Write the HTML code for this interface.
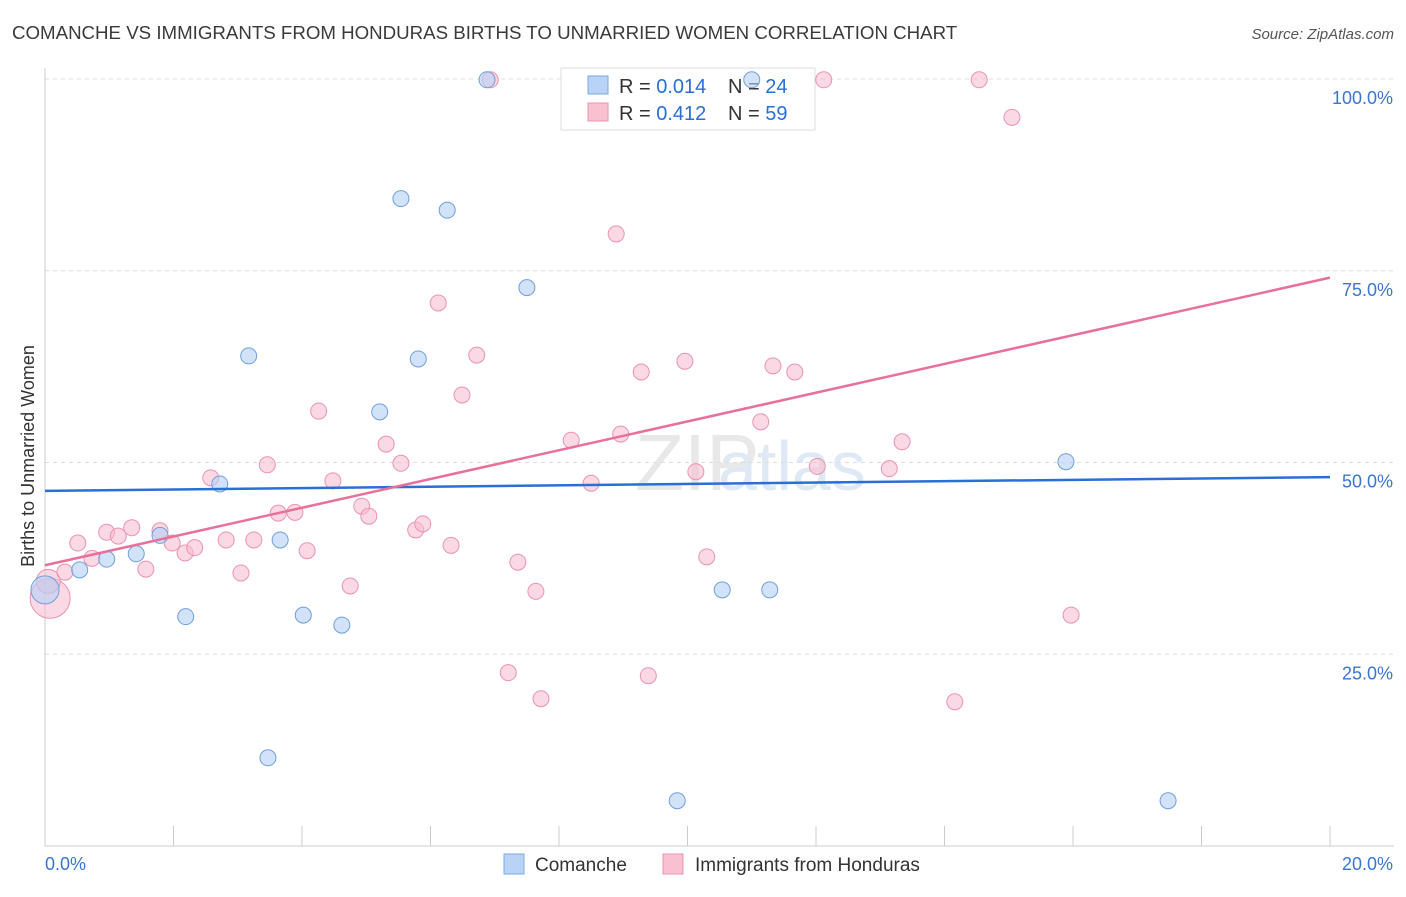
<!DOCTYPE html>
<html><head><meta charset="utf-8"><style>
body{margin:0;background:#fff;font-family:"Liberation Sans",sans-serif}
svg text{font-family:"Liberation Sans",sans-serif}
</style></head><body>
<svg id="chart" width="1406" height="892" viewBox="0 0 1406 892" xmlns="http://www.w3.org/2000/svg">
<text x="12" y="39" font-size="18.7" fill="#3a3a3a">COMANCHE VS IMMIGRANTS FROM HONDURAS BIRTHS TO UNMARRIED WOMEN CORRELATION CHART</text>
<text x="1394" y="39" font-size="15" fill="#555" text-anchor="end" font-style="italic">Source: ZipAtlas.com</text>
<text x="34" y="456" font-size="18" fill="#333" text-anchor="middle" transform="rotate(-90 34 456)">Births to Unmarried Women</text>
<text x="635" y="490" font-size="80" fill="#e8e8e8" font-family="Liberation Serif">ZIP</text>
<text x="718" y="490" font-size="70" fill="#dfe8f5">atlas</text>
<g id="grid"></g><g id="axes"></g>
<g>
<rect x="561" y="68" width="254" height="62" fill="#fff" stroke="#ddd"/>
<rect x="588" y="76" width="20" height="18" fill="#b8d3f5" stroke="#7aa8e0"/>
<rect x="588" y="103" width="20" height="18" fill="#f8c0d0" stroke="#eb93ae"/>
<text x="619" y="93" font-size="20" fill="#333">R = <tspan fill="#2a6fd6">0.014</tspan></text>
<text x="728" y="93" font-size="20" fill="#333">N = <tspan fill="#2a6fd6">24</tspan></text>
<text x="619" y="120" font-size="20" fill="#333">R = <tspan fill="#2a6fd6">0.412</tspan></text>
<text x="728" y="120" font-size="20" fill="#333">N = <tspan fill="#2a6fd6">59</tspan></text>
</g>
<g id="pts"></g><g id="lines"></g>
<g>
<rect x="504" y="854" width="20" height="20" fill="#b8d3f5" stroke="#7aa8e0"/>
<text x="535" y="871" font-size="19" fill="#333">Comanche</text>
<rect x="663" y="854" width="20" height="20" fill="#f8c0d0" stroke="#eb93ae"/>
<text x="695" y="871" font-size="19" fill="#333">Immigrants from Honduras</text>
</g>
</svg>
<script>
const yTicks=[25,50,75,100];
const yTickLabels=["25.0%","50.0%","75.0%","100.0%"];
const xEndLabels=["0.0%","20.0%"];
const blueX=[0,0.54,0.96,1.42,1.79,2.19,2.72,3.17,3.47,3.66,4.02,4.62,5.21,5.54,5.81,6.26,6.88,7.50,9.84,10.54,11.00,11.28,15.89,17.48];
const blueY=[33.4,36.0,37.4,38.1,40.5,29.9,47.2,63.9,11.5,39.9,30.1,28.8,56.6,84.4,63.5,82.9,99.9,72.8,5.9,33.4,99.9,33.4,50.1,5.9];
const pinkX=[0.08,0.05,0.31,0.51,0.73,0.96,1.14,1.35,1.57,1.79,1.98,2.18,2.33,2.58,2.82,3.05,3.25,3.46,3.63,3.89,4.08,4.26,4.48,4.75,4.93,5.04,5.31,5.54,5.77,5.88,6.12,6.32,6.49,6.72,6.93,7.21,7.36,7.64,7.72,8.19,8.50,8.89,8.96,9.28,9.39,9.96,10.13,10.30,11.14,11.33,11.67,12.02,12.12,13.14,13.34,14.16,14.54,15.05,15.97];
const pinkY=[32.3,34.5,35.7,39.5,37.5,40.9,40.4,41.5,36.1,41.1,39.5,38.2,38.9,48.0,39.9,35.6,39.9,49.7,43.4,43.5,38.5,56.7,47.6,33.9,44.3,43.0,52.4,49.9,41.2,42.0,70.8,39.2,58.8,64.0,99.9,22.6,37.0,33.2,19.2,52.9,47.3,79.8,53.7,61.8,22.2,63.2,48.8,37.7,55.3,62.6,61.8,49.5,99.9,49.2,52.7,18.8,99.9,95.0,30.1];
const blueTrend=[46.3,48.1];
const pinkTrend=[36.6,74.1];
const X=v=>45+v*64.25, Y=v=>846-v*7.67;
const NS="http://www.w3.org/2000/svg";
function mk(tag,attrs,parent){const e=document.createElementNS(NS,tag);for(const k in attrs)e.setAttribute(k,attrs[k]);document.getElementById(parent).appendChild(e);return e;}
yTicks.forEach((t,i)=>{
 const l=mk('line',{x1:45,x2:1394,y1:Y(t),y2:Y(t),stroke:'#ddd','stroke-dasharray':'4 4'},'grid');
 
 
 const tx=mk('text',{x:1393,y:Y(t)+25,'font-size':18,fill:'#3a75d0','text-anchor':'end'},'axes');
 tx.textContent=yTickLabels[i];
 
 
});
const ax=mk('line',{x1:45,x2:1394,y1:846,y2:846,stroke:'#ccc'},'axes');


const ay=mk('line',{x1:45,x2:45,y1:68,y2:846,stroke:'#ccc'},'axes');


for(let i=0;i<=10;i++){const t=mk('line',{x1:X(i*2),x2:X(i*2),y1:826,y2:846,stroke:'#ccc'},'axes');
 
 }
[[0,'start',45],[20,'end',1393]].forEach((d,i)=>{const t=mk('text',{x:d[2],y:870,'font-size':18,fill:'#3a75d0','text-anchor':d[1]},'axes');t.textContent=xEndLabels[i];
 
 });
pinkX.forEach((x,i)=>{const c=mk('circle',{cx:X(x),cy:Y(pinkY[i]),r:i<2?(i==0?20:12):8,fill:'rgba(248,185,205,0.55)',stroke:'#eb93ae','stroke-width':1},'pts');
 
 });
blueX.forEach((x,i)=>{const c=mk('circle',{cx:X(x),cy:Y(blueY[i]),r:i==0?14:8,fill:'rgba(180,208,245,0.6)',stroke:'#6f9fdc','stroke-width':1},'pts');
 
 });
const bl=mk('line',{x1:X(0),x2:X(20),y1:Y(blueTrend[0]),y2:Y(blueTrend[1]),stroke:'#2a6fd6','stroke-width':2.5},'lines');


const pl=mk('line',{x1:X(0),x2:X(20),y1:Y(pinkTrend[0]),y2:Y(pinkTrend[1]),stroke:'#e8709a','stroke-width':2.5},'lines');


</script>
</body></html>
